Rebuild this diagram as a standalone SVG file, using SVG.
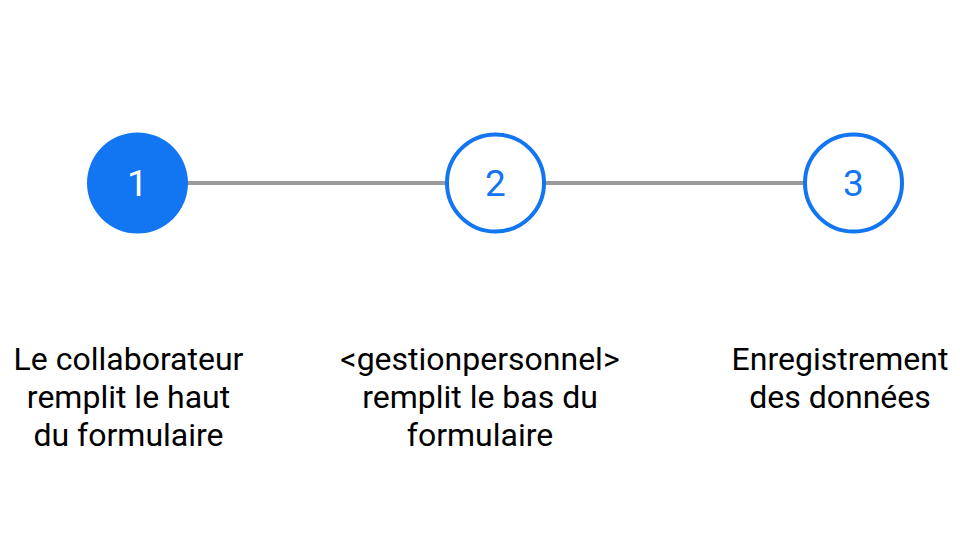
<svg xmlns="http://www.w3.org/2000/svg" width="960" height="540" viewBox="0 0 960 540">
<style>
.lbl{font-family:Roboto,"Liberation Sans",sans-serif;font-size:32px;fill:#000;text-anchor:middle}
.num{font-family:Roboto,"Liberation Sans",sans-serif;font-size:37px;text-anchor:middle}
.ring{fill:#fff;stroke:#1275f2;stroke-width:4}
.conn{stroke:#9a9a9a;stroke-width:4}
</style>
<rect width="960" height="540" fill="#fff"/>
<g id="connectors">
<line class="conn" x1="187" y1="183" x2="446" y2="183"/>
<line class="conn" x1="545" y1="183" x2="804" y2="183"/>
</g>
<g id="step1">
<circle cx="137.5" cy="183" r="50.5" fill="#1275f2"/>
<text class="num" x="137.5" y="196" fill="#fff">1</text>
<text class="lbl" x="128.5" y="370">Le collaborateur</text>
<text class="lbl" x="128.5" y="408">remplit le haut</text>
<text class="lbl" x="128.5" y="446">du formulaire</text>
</g>
<g id="step2">
<circle class="ring" cx="495.5" cy="183" r="48.5"/>
<text class="num" x="495.5" y="196" fill="#1275f2">2</text>
<text class="lbl" x="480" y="370">&lt;gestionpersonnel&gt;</text>
<text class="lbl" x="480" y="408">remplit le bas du</text>
<text class="lbl" x="480" y="446">formulaire</text>
</g>
<g id="step3">
<circle class="ring" cx="853.5" cy="183" r="48.5"/>
<text class="num" x="853.5" y="196" fill="#1275f2">3</text>
<text class="lbl" x="840" y="370">Enregistrement</text>
<text class="lbl" x="840" y="408">des données</text>
</g>
</svg>
